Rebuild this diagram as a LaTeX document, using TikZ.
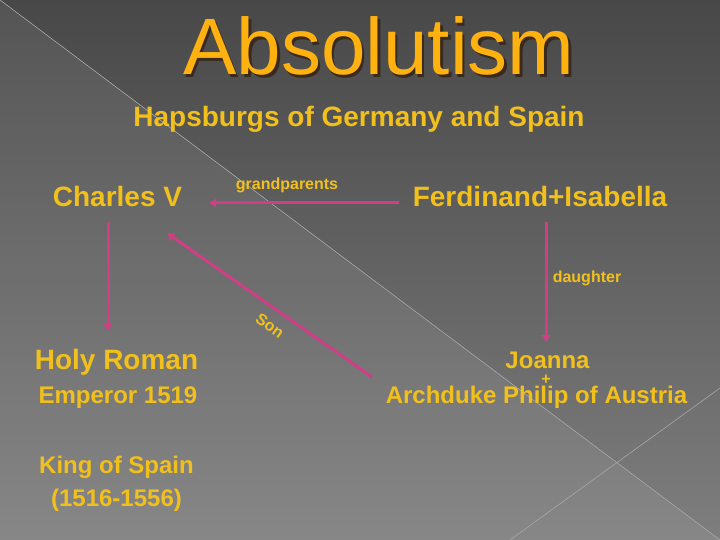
\documentclass[tikz,border=0pt]{standalone}
\usepackage{fontspec}
\setmainfont{Liberation Sans}
\usetikzlibrary{arrows.meta}
\definecolor{bgtop}{HTML}{484848}
\definecolor{bgbot}{HTML}{7E7E7E}
\definecolor{gridline}{HTML}{A8A8A8}
\definecolor{goldtxt}{HTML}{F2C01C}
\definecolor{titleorange}{HTML}{FFB10F}
\definecolor{titleshadow}{HTML}{3A2A1E}
\definecolor{linkpink}{HTML}{CF3F86}
\tikzset{
  big/.style={font=\fontsize{28}{34}\selectfont\bfseries, text=goldtxt, inner sep=0pt, anchor=base},
  mid/.style={font=\fontsize{24}{29}\selectfont\bfseries, text=goldtxt, inner sep=0pt, anchor=base},
  small/.style={font=\fontsize{16}{19}\selectfont\bfseries, text=goldtxt, inner sep=0pt, anchor=base},
  titletext/.style={font=\fontsize{80}{96}\selectfont, inner sep=0pt, anchor=base},
  link/.style={draw=linkpink, line width=3pt, -{Triangle[length=7pt,width=8pt]}},
  bgline/.style={draw=gridline, line width=0.6pt}
}
\begin{document}
\begin{tikzpicture}[x=1pt,y=-1pt]
\useasboundingbox (0,0) rectangle (720,540);
% background
\shade[top color=bgtop, bottom color=bgbot] (0,0) rectangle (720,540);
\fill[white, opacity=0.07] (0,0) -- (720,540) -- (0,540) -- cycle;
\draw[bgline] (0,0) -- (720,540);
\draw[bgline] (510,540) -- (720,388);
% title with shadow
\node[titletext, text=titleshadow] (titleshad) at (381.5,77.5) {Absolutism};
\node[titletext, text=titleorange] (title) at (379,75) {Absolutism};
\node[big] (sub) at (359,127) {Hapsburgs of Germany and Spain};
% people
\node[big] (charles) at (117.5,207) {Charles V};
\node[big] (ferd) at (540,207) {Ferdinand+Isabella};
\node[small] (grand) at (287,190) {grandparents};
\node[small] (daughter) at (587,282) {daughter};
\node[big] (holy) at (116.5,369) {Holy Roman};
\node[mid] (emperor) at (118,403) {Emperor 1519};
\node[mid] (king) at (116.5,473) {King of Spain};
\node[mid] (years) at (116.5,506) {(1516-1556)};
\node[mid] (joanna) at (547.5,368) {Joanna};
\node[small] (plus) at (546,384) {+};
\node[mid] (philip) at (536.5,403) {Archduke Philip of Austria};
\node[small, anchor=center, rotate=-35] (son) at (270,326) {Son};
% connector end points
\coordinate (hA) at (399,203);
\coordinate (hB) at (209,203);
\coordinate (lA) at (108,222);
\coordinate (lB) at (108,331);
\coordinate (sA) at (372,377);
\coordinate (sB) at (167,233);
\coordinate (rA) at (546,222);
\coordinate (rB) at (546,342);
\draw[link] (hA) -- (hB);
\draw[link] (lA) -- (lB);
\draw[link] (sA) -- (sB);
\draw[link] (rA) -- (rB);
\end{tikzpicture}
\end{document}
